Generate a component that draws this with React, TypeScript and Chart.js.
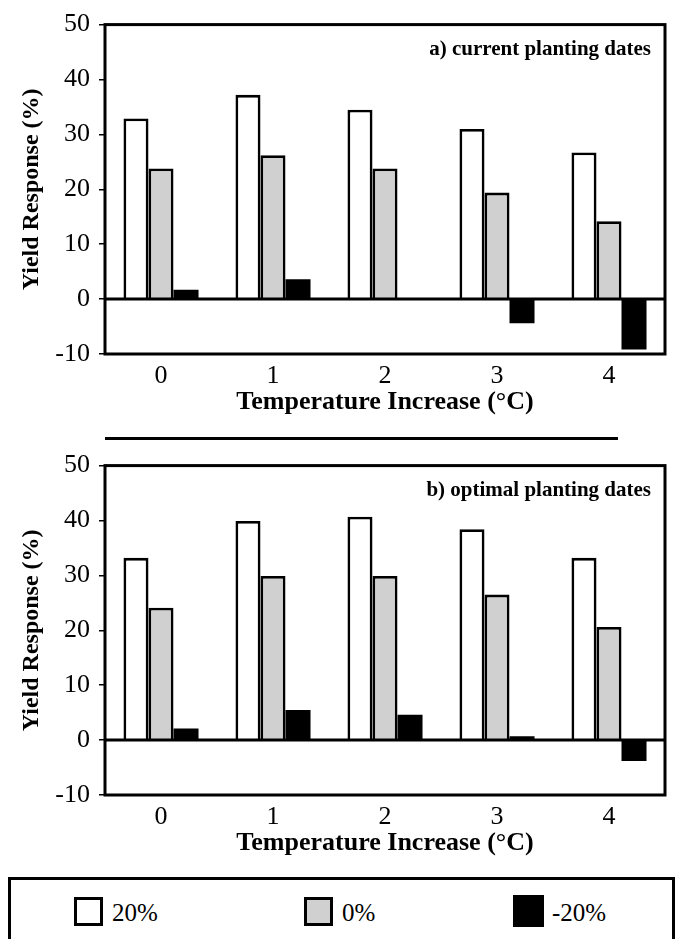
import React, { useEffect, useRef } from 'react';
import { Chart, registerables } from 'chart.js';

Chart.register(...registerables);

// ---- data ----
const categories = ['0', '1', '2', '3', '4'];
const yTicks = [50, 40, 30, 20, 10, 0, -10];
const seriesLabels = ['20%', '0%', '-20%'];

// a) current planting dates
const currentPlus20 = [32.9, 37.2, 34.5, 31.0, 26.7];
const currentZero = [23.8, 26.2, 23.8, 19.4, 14.2];
const currentMinus20 = [1.7, 3.6, 0.2, -4.4, -9.2];

// b) optimal planting dates
const optimalPlus20 = [33.2, 39.9, 40.7, 38.4, 33.2];
const optimalZero = [24.1, 29.9, 29.9, 26.5, 20.6];
const optimalMinus20 = [2.1, 5.5, 4.6, 0.7, -3.8];

const xTitle = 'Temperature Increase (°C)';
const yTitle = 'Yield Response (%)';

const SERIF = '"Liberation Serif", "Times New Roman", serif';
const fills = ['#ffffff', '#d0d0d0', '#000000'];

const framePlugin = {
  id: 'frame',
  afterDatasetsDraw(chart: any) {
    const { ctx, chartArea: a, scales } = chart;
    const y0 = scales.y.getPixelForValue(0);
    ctx.save();
    ctx.strokeStyle = '#000';
    ctx.lineWidth = 3;
    ctx.beginPath();
    ctx.moveTo(a.left, y0);
    ctx.lineTo(a.right, y0);
    ctx.stroke();
    ctx.strokeRect(a.left, a.top, a.right - a.left, a.bottom - a.top);
    const text = chart.options.plugins.frame?.text || '';
    ctx.font = `bold 21px ${SERIF}`;
    ctx.fillStyle = '#000';
    ctx.textAlign = 'right';
    ctx.textBaseline = 'middle';
    ctx.fillText(text, a.right - 14, a.top + 25);
    ctx.restore();
  },
};

function Panel({ top, values, note }: { top: number; values: number[][]; note: string }) {
  const ref = useRef<HTMLCanvasElement>(null);
  useEffect(() => {
    if (!ref.current) return;
    const chart = new Chart(ref.current, {
      type: 'bar',
      data: {
        labels: categories,
        datasets: values.map((v, i) => ({
          label: seriesLabels[i],
          data: v,
          backgroundColor: fills[i],
          borderColor: '#000',
          borderWidth: i === 2 ? 0 : 2.8,
          categoryPercentage: 0.67,
          barPercentage: 1.0,
        })),
      },
      options: {
        responsive: false,
        animation: false,
        devicePixelRatio: 1,
        layout: { padding: { top: 23, right: 15, bottom: 0, left: 0 } },
        plugins: {
          legend: { display: false },
          tooltip: { enabled: false },
          frame: { text: note },
        } as any,
        scales: {
          x: {
            grid: { display: false, drawTicks: false },
            border: { display: false },
            ticks: { color: '#000', padding: 7, font: { family: SERIF, size: 26, lineHeight: 1.2 } },
            title: {
              display: true,
              text: xTitle,
              color: '#000',
              font: { family: SERIF, size: 26, weight: 'bold', lineHeight: 1.2 },
              padding: { top: 0, bottom: 12 },
            },
            afterFit: (s: any) => {
              s.height = 76;
            },
          },
          y: {
            min: -10,
            max: 50,
            afterBuildTicks: (s: any) => {
              s.ticks = yTicks.map((v) => ({ value: v }));
            },
            grid: { drawOnChartArea: false, drawTicks: true, tickLength: 6, color: '#000', lineWidth: 1.5 },
            border: { display: false },
            ticks: { color: '#000', padding: 9, font: { family: SERIF, size: 26, lineHeight: 1.2 } },
            title: {
              display: true,
              text: yTitle,
              color: '#000',
              font: { family: SERIF, size: 24, weight: 'bold', lineHeight: 1.2 },
              padding: { top: 17, bottom: 0 },
            },
            afterFit: (s: any) => {
              s.width = 105;
            },
          },
        },
      },
      plugins: [framePlugin],
    });
    return () => chart.destroy();
  }, []);
  return (
    <canvas
      ref={ref}
      width={680}
      height={430}
      style={{ position: 'absolute', left: 0, top, width: 680, height: 430 }}
    />
  );
}

export default function App() {
  const swatches = [
    { left: 74, top: 897, w: 29, h: 29, border: true, textLeft: 112 },
    { left: 304, top: 897, w: 29, h: 29, border: true, textLeft: 342 },
    { left: 513, top: 895, w: 31, h: 32, border: false, textLeft: 552 },
  ];
  return (
    <div style={{ position: 'absolute', left: 0, top: 0, width: 680, height: 939, overflow: 'hidden', background: '#fff' }}>
      <Panel top={0} values={[currentPlus20, currentZero, currentMinus20]} note="a) current planting dates" />
      <div style={{ position: 'absolute', left: 105, top: 437, width: 513, height: 3, background: '#000' }} />
      <Panel top={441} values={[optimalPlus20, optimalZero, optimalMinus20]} note="b) optimal planting dates" />
      <div
        style={{
          position: 'absolute',
          left: 8,
          top: 877,
          width: 667,
          height: 80,
          border: '3px solid #000',
          boxSizing: 'border-box',
        }}
      />
      {seriesLabels.map((lab, i) => {
        const s = swatches[i];
        return (
          <React.Fragment key={lab}>
            <div
              style={{
                position: 'absolute',
                left: s.left,
                top: s.top,
                width: s.w,
                height: s.h,
                background: fills[i],
                border: s.border ? '3px solid #000' : 'none',
                boxSizing: 'border-box',
              }}
            />
            <div
              style={{
                position: 'absolute',
                left: s.textLeft,
                top: 913 - 15,
                height: 30,
                lineHeight: '30px',
                fontFamily: SERIF,
                fontSize: 25,
                color: '#000',
                whiteSpace: 'nowrap',
              }}
            >
              {lab}
            </div>
          </React.Fragment>
        );
      })}
    </div>
  );
}
